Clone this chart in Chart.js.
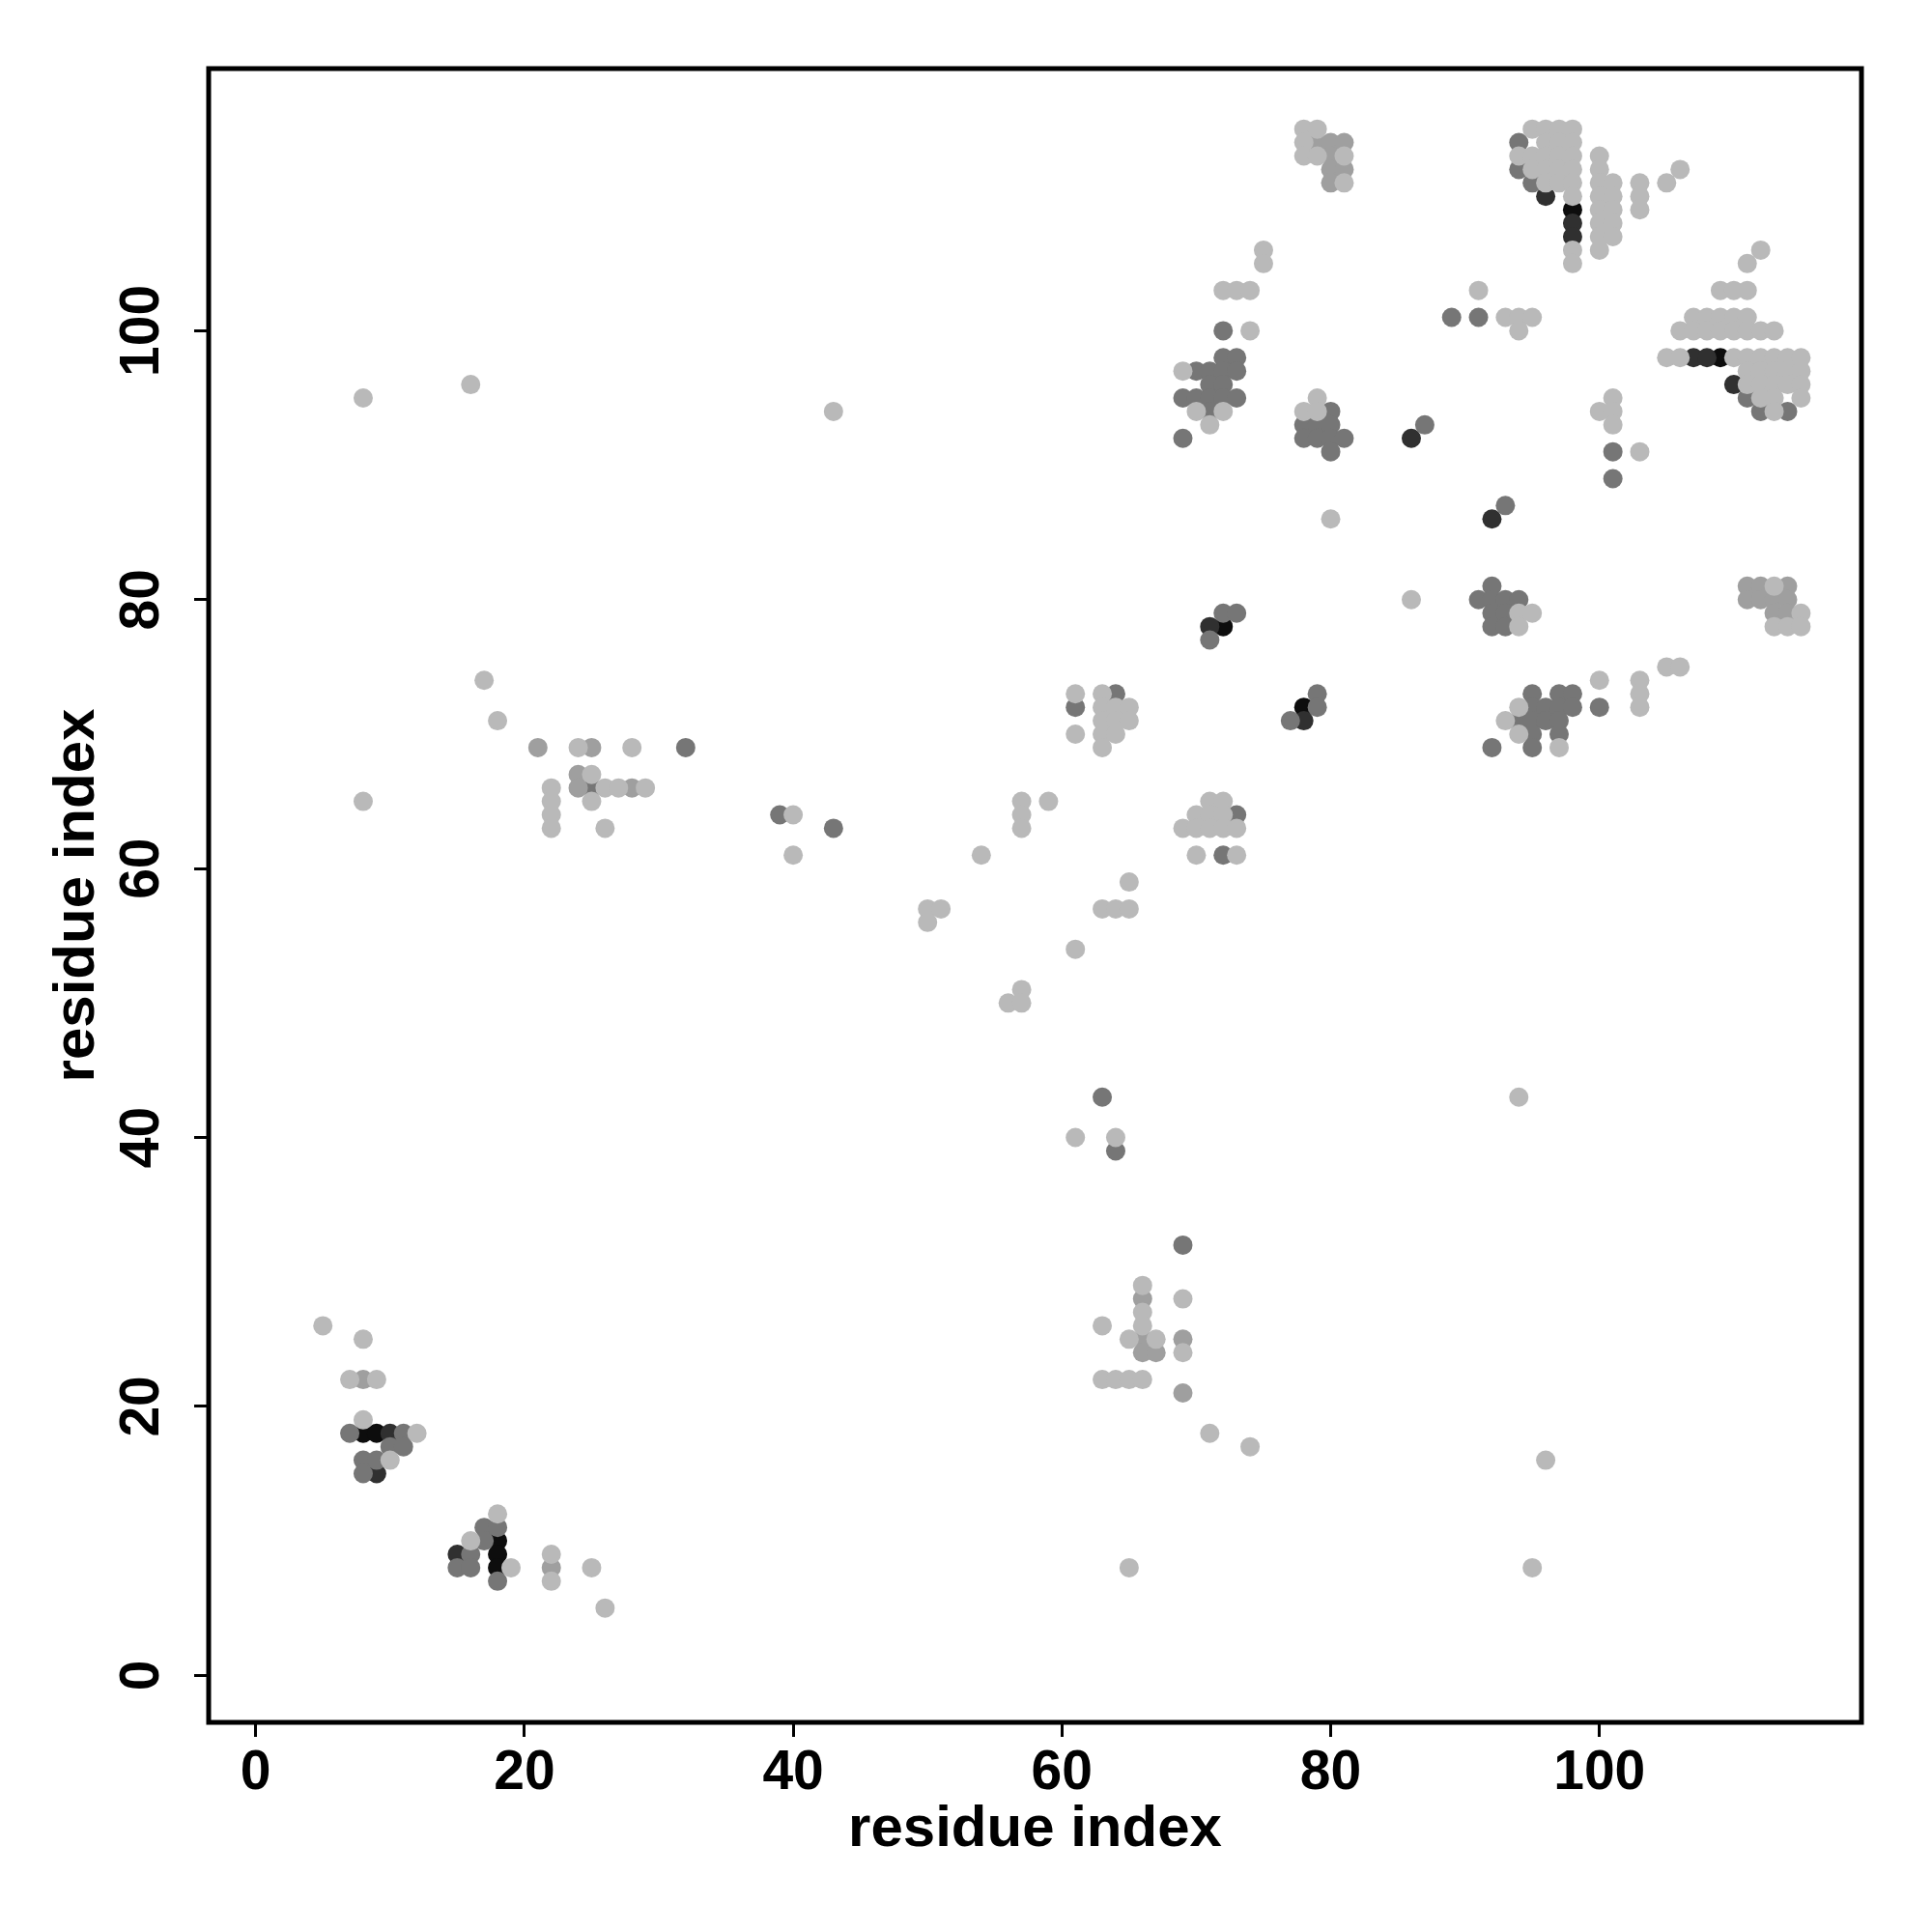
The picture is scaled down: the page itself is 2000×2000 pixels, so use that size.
<!DOCTYPE html>
<html>
<head>
<meta charset="utf-8">
<script src="https://cdn.jsdelivr.net/npm/chart.js@4.4.1/dist/chart.umd.min.js"></script>
<style>
  html, body { margin: 0; padding: 0; background: #fff; }
  canvas { display: block; }
</style>
</head>
<body>
<canvas id="contactMap" width="2000" height="2000"></canvas>
<script>
/* ===== data: residue pairs [i, j], grouped by grey shade ===== */
const lightPairs = [
  [5,26],[8,25],[7,22],[9,22],[8,19],[12,18],[10,16],[18,12],[16,10],[19,8],[22,9],[22,7],[25,8],[26,5],
  [61,40],[64,40],[66,29],[69,28],[66,27],[63,26],[66,26],[65,25],[67,25],[69,24],[63,22],[64,22],[65,22],[66,22],
  [71,18],[74,17],[65,8],[96,16],[95,8],[94,43],
  [40,64],[40,61],[57,65],[57,64],[57,63],[59,65],[54,61],[50,57],[51,57],[50,56],[57,51],[56,50],[57,50],[61,54],
  [63,57],[64,57],[65,57],[65,59],
  [8,95],[16,96],[43,94],[17,74],[18,71],[8,65],[24,69],[28,69],[25,67],[22,66],[26,66],[27,66],[29,66],[22,65],
  [25,65],[22,64],[22,63],[26,63],
  [61,73],[61,70],[63,73],[63,72],[63,71],[63,70],[63,69],[64,72],[64,71],[64,70],[65,72],[65,71],
  [71,65],[72,65],[70,64],[71,64],[72,64],[69,63],[70,63],[71,63],[72,63],[73,63],[70,61],[73,61],
  [74,100],[69,97],[70,94],[72,94],[71,93],
  [79,95],[78,94],[79,94],[80,86],[86,80],
  [94,79],[95,79],[94,78],
  [100,74],[103,74],[103,73],[94,72],[103,72],[93,71],[94,70],[97,69],[105,75],[106,75],
  [101,95],[100,94],[101,94],[101,93],[103,91],
  [112,106],[111,105],[109,103],[110,103],[111,103],[107,101],[108,101],[109,101],[110,101],[111,101],
  [106,100],[107,100],[108,100],[109,100],[110,100],[111,100],[112,100],[113,100],
  [105,98],[106,98],[110,98],[111,98],[112,98],[113,98],[114,98],[115,98],
  [111,97],[112,97],[113,97],[114,97],[115,97],[111,96],[112,96],[113,96],[114,96],[115,96],
  [112,95],[113,95],[115,95],[113,94],
  [113,81],[115,79],[113,78],[114,78],[115,78],
  [95,115],[96,115],[97,115],[98,115],[96,114],[97,114],[98,114],[94,113],[95,113],[96,113],[97,113],[98,113],
  [100,113],[95,112],[96,112],[97,112],[98,112],[100,112],[96,111],[97,111],[98,111],[100,111],[101,111],
  [103,111],[105,111],[106,112],[98,110],[100,110],[101,110],[103,110],[100,109],[101,109],[103,109],
  [100,108],[101,108],[100,107],[101,107],[98,106],[100,106],[98,105],
  [78,115],[79,115],[78,114],[78,113],[79,113],[81,113],[81,111],
  [75,106],[75,105],[72,103],[73,103],[74,103],[91,103],[93,101],[94,101],[95,101],[94,100]
];
const midLightPairs = [
  [8,22],[22,8],
  [66,28],[66,25],[69,25],[66,24],[67,24],[69,21],
  [21,69],[25,69],[24,67],[24,66],[28,66],
  [111,81],[112,81],[114,81],[111,80],[112,80],[113,80],[114,80],[113,79],[114,79],
  [79,114],[80,114],[81,114],[80,113],[80,112],[81,112],[80,111]
];
const midPairs = [
  [7,18],[11,18],[10,17],[11,17],[8,16],[9,16],[8,15],[17,11],[18,11],[17,10],[16,9],[15,8],[16,8],[18,7],
  [63,43],[64,39],[69,32],[39,64],[43,63],[32,69],[25,66],
  [61,72],[64,73],[73,64],[72,61],
  [79,73],[79,72],[77,71],[71,77],[72,79],[73,79],
  [72,100],[72,98],[73,98],[70,97],[71,97],[72,97],[73,97],[71,96],[72,96],[69,95],[70,95],[71,95],[72,95],
  [73,95],[71,94],[69,92],
  [80,94],[78,93],[79,93],[80,93],[78,92],[79,92],[80,92],[81,92],[80,91],[87,93],[93,87],
  [92,81],[91,80],[92,80],[93,80],[94,80],[92,79],[93,79],[92,78],[93,78],
  [95,73],[97,73],[98,73],[95,72],[96,72],[97,72],[98,72],[100,72],[94,71],[95,71],[96,71],[97,71],
  [95,70],[97,70],[92,69],[95,69],
  [101,91],[101,89],
  [111,95],[112,94],[114,94],
  [94,114],[94,112],[95,111],
  [89,101],[91,101]
];
const darkPairs = [
  [9,15],[15,9],[10,18],[78,71],[71,78],[86,92],[92,86],[107,98],[108,98],[110,96],[96,110],[98,108],[98,107]
];
const blackPairs = [
  [8,18],[9,18],[18,10],[18,9],[18,8],[78,72],[72,78],[109,98],[98,109]
];
const tickValues = [0, 20, 40, 60, 80, 100];
const axisTitle = "residue index";

/* ===== chart ===== */
const toPoints = arr => arr.map(p => ({ x: p[0], y: p[1] }));

function serie(pairs, color) {
  return {
    data: toPoints(pairs),
    backgroundColor: color,
    borderWidth: 0,
    pointRadius: 10,
    pointHoverRadius: 10
  };
}

const frame = {
  id: "frame",
  afterDraw(chart) {
    const { ctx, chartArea: a } = chart;
    ctx.save();
    ctx.strokeStyle = "#000";
    ctx.lineWidth = 5;
    ctx.strokeRect(a.left, a.top, a.right - a.left, a.bottom - a.top);
    ctx.restore();
  }
};

const fonteTick = { family: "'Liberation Sans', Arial, sans-serif", size: 57, weight: "bold" };
const fonteTitulo = { family: "'Liberation Sans', Arial, sans-serif", size: 60, weight: "bold" };

new Chart(document.getElementById("contactMap"), {
  type: "scatter",
  data: {
    datasets: [
      serie(lightPairs, "#b9b9b9"),
      serie(midLightPairs, "#9f9f9f"),
      serie(midPairs, "#767676"),
      serie(darkPairs, "#303030"),
      serie(blackPairs, "#0d0d0d")
    ]
  },
  options: {
    responsive: false,
    animation: false,
    events: [],
    layout: { padding: { left: 0, top: 71, right: 73, bottom: 0 } },
    plugins: { legend: { display: false }, tooltip: { enabled: false } },
    scales: {
      x: {
        type: "linear",
        min: -3.5,
        max: 119.5,
        border: { display: false },
        grid: { drawOnChartArea: false, drawTicks: true, tickLength: 15, tickWidth: 3, tickColor: "#000" },
        ticks: { includeBounds: false, color: "#000", font: fonteTick, padding: 4, maxRotation: 0 },
        afterBuildTicks: s => { s.ticks = tickValues.map(v => ({ value: v })); },
        afterFit: s => { s.height = 217; },
        title: { display: true, text: axisTitle, color: "#000", font: fonteTitulo, padding: { top: 0, bottom: 70 } }
      },
      y: {
        type: "linear",
        min: -3.5,
        max: 119.5,
        border: { display: false },
        grid: { drawOnChartArea: false, drawTicks: true, tickLength: 15, tickWidth: 3, tickColor: "#000" },
        ticks: { includeBounds: false, color: "#000", font: fonteTick, padding: 5, minRotation: 90, maxRotation: 90, crossAlign: "center" },
        afterBuildTicks: s => { s.ticks = tickValues.map(v => ({ value: v })); },
        afterFit: s => { s.width = 216; },
        title: { display: true, text: axisTitle, color: "#000", font: fonteTitulo, padding: { top: 44, bottom: 0 } }
      }
    }
  },
  plugins: [frame]
});
</script>
</body>
</html>
